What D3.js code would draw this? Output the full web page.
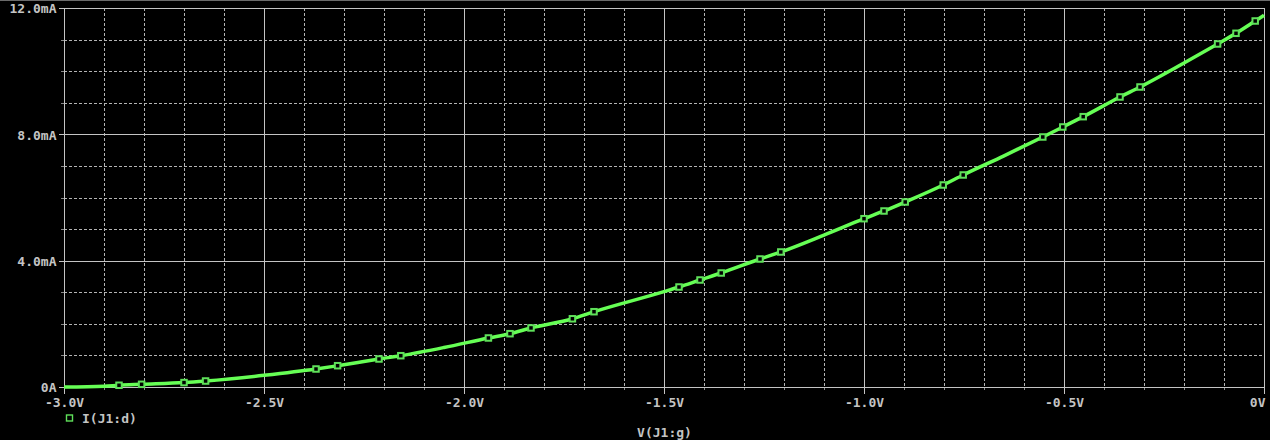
<!DOCTYPE html>
<html><head><meta charset="utf-8">
<script src="https://cdn.jsdelivr.net/npm/d3@7"></script>
<style>html,body{margin:0;padding:0;background:#000;overflow:hidden} svg{display:block}</style>
</head><body><svg id="c" width="1270" height="440"></svg>
<script>
// ---- data ----
const traceV = [-3.0, -2.9, -2.8625, -2.806, -2.70, -2.646, -2.5, -2.37, -2.316, -2.2125, -2.158, -2.05, -1.939, -1.885, -1.8325, -1.729, -1.675, -1.5, -1.4625, -1.41, -1.357, -1.26, -1.208, -1.1, -1.0, -0.95, -0.897, -0.802, -0.752, -0.65, -0.553, -0.503, -0.452, -0.36, -0.31, -0.2, -0.116, -0.07, -0.022, 0.0];
const traceI = [0.0, 0.025, 0.055, 0.085, 0.14, 0.19, 0.37, 0.57, 0.674, 0.887, 0.991, 1.25, 1.552, 1.688, 1.87, 2.16, 2.384, 3.02, 3.166, 3.388, 3.61, 4.053, 4.275, 4.81, 5.329, 5.573, 5.858, 6.396, 6.713, 7.32, 7.916, 8.233, 8.559, 9.183, 9.499, 10.26, 10.861, 11.199, 11.589, 11.77];
const markerV = [-2.8625, -2.806, -2.70, -2.646, -2.37, -2.316, -2.2125, -2.158, -1.939, -1.885, -1.8325, -1.729, -1.675, -1.4625, -1.41, -1.357, -1.26, -1.208, -1.0, -0.95, -0.897, -0.802, -0.752, -0.553, -0.503, -0.452, -0.36, -0.31, -0.116, -0.07, -0.022];
const markerI = [0.055, 0.085, 0.14, 0.19, 0.57, 0.674, 0.887, 0.991, 1.552, 1.688, 1.87, 2.16, 2.384, 3.166, 3.388, 3.61, 4.053, 4.275, 5.329, 5.573, 5.858, 6.396, 6.713, 7.916, 8.233, 8.559, 9.183, 9.499, 10.861, 11.199, 11.589];
const xTickValues = [-3.0, -2.5, -2.0, -1.5, -1.0, -0.5, 0.0];
const xTickLabels = ["-3.0V", "-2.5V", "-2.0V", "-1.5V", "-1.0V", "-0.5V", "0V"];
const yTickValues = [0, 4, 8, 12];
const yTickLabels = ["0A", "4.0mA", "8.0mA", "12.0mA"];
const xTitle = "V(J1:g)";
const legendLabel = "I(J1:d)";

// ---- layout ----
const L = 64, R = 1264, T = 8, B = 387;
const txt = "#c4c4c4", grid = "#b4b4b4", axisCol = "#c4c4c4";
const lineCol = "#66ff55", markCol = "#5fe05a";
const font = "'DejaVu Sans Mono', 'Liberation Mono', monospace";

const svg = d3.select("#c");
svg.append("rect").attr("width",1270).attr("height",440).attr("fill","#000");
svg.append("line").attr("x1",0).attr("x2",1270).attr("y1",0.5).attr("y2",0.5)
  .attr("stroke","#6a6a6a").attr("stroke-width",1);

const x = d3.scaleLinear().domain([-3, 0]).range([L, R]);
const y = d3.scaleLinear().domain([0, 12]).range([B, T]);

const xMinor = x.ticks(30);
const yMinor = y.ticks(12);
const isMajorX = v => xTickValues.some(t => Math.abs(t - v) < 1e-6);
const isMajorY = v => yTickValues.some(t => Math.abs(t - v) < 1e-6);

const g = svg.append("g").attr("shape-rendering","crispEdges");
// dashed minor grid
g.selectAll("line.vx").data(xMinor.filter(v => !isMajorX(v))).enter().append("line")
  .attr("x1", d => Math.round(x(d)) + 0.5).attr("x2", d => Math.round(x(d)) + 0.5)
  .attr("y1", T).attr("y2", B)
  .attr("stroke", grid).attr("stroke-dasharray","3,2");
g.selectAll("line.hy").data(yMinor.filter(v => !isMajorY(v))).enter().append("line")
  .attr("y1", d => Math.round(y(d)) + 0.5).attr("y2", d => Math.round(y(d)) + 0.5)
  .attr("x1", L).attr("x2", R)
  .attr("stroke", grid).attr("stroke-dasharray","3,2");
// solid major grid
g.selectAll("line.mx").data(xTickValues.slice(1, -1)).enter().append("line")
  .attr("x1", d => Math.round(x(d)) + 0.5).attr("x2", d => Math.round(x(d)) + 0.5)
  .attr("y1", T).attr("y2", B).attr("stroke", axisCol);
g.selectAll("line.my").data(yTickValues.slice(1, -1)).enter().append("line")
  .attr("y1", d => Math.round(y(d)) + 0.5).attr("y2", d => Math.round(y(d)) + 0.5)
  .attr("x1", L).attr("x2", R).attr("stroke", axisCol);
// minor ticks
g.selectAll("line.tx").data(xMinor.filter(v => !isMajorX(v))).enter().append("line")
  .attr("x1", d => Math.round(x(d)) + 0.5).attr("x2", d => Math.round(x(d)) + 0.5)
  .attr("y1", B).attr("y2", B + 3).attr("stroke", "#888");
g.selectAll("line.ty").data(yMinor.filter(v => !isMajorY(v))).enter().append("line")
  .attr("y1", d => Math.round(y(d)) + 0.5).attr("y2", d => Math.round(y(d)) + 0.5)
  .attr("x1", L - 3).attr("x2", L).attr("stroke", "#888");
// border
g.append("rect").attr("x", L + 0.5).attr("y", T + 0.5).attr("width", R - L).attr("height", B - T)
  .attr("fill","none").attr("stroke", axisCol);

// axes
const xAxis = d3.axisBottom(x).tickValues(xTickValues).tickFormat((d,i) => xTickLabels[i])
  .tickSize(6).tickPadding(4);
const gx = svg.append("g").attr("transform", `translate(0,${B + 0.5})`).call(xAxis);
const yAxis = d3.axisLeft(y).tickValues(yTickValues).tickFormat((d,i) => yTickLabels[i])
  .tickSize(6).tickPadding(2);
const gy = svg.append("g").attr("transform", `translate(${L + 0.5},0)`).call(yAxis);
[gx, gy].forEach(a => {
  a.select(".domain").remove();
  a.selectAll(".tick line").attr("stroke", axisCol).attr("shape-rendering","crispEdges");
  a.selectAll(".tick text").attr("fill", txt).attr("font-family", font)
    .attr("font-size", 13).attr("font-weight", "bold");
});
gx.selectAll(".tick text").filter((d,i) => i === xTickValues.length - 1).attr("text-anchor","end").attr("dx", 1);
gy.selectAll(".tick text").attr("dy", "0.36em");

// trace
const pts = traceV.map((v,i) => [v, traceI[i]]);
svg.append("path").datum(pts)
  .attr("d", d3.line().x(d => x(d[0])).y(d => y(d[1])).curve(d3.curveMonotoneX))
  .attr("fill","none").attr("stroke", lineCol).attr("stroke-width", 3.5);

// markers
const mk = markerV.map((v,i) => [v, markerI[i]]);
svg.selectAll("rect.mk").data(mk).enter().append("rect")
  .attr("x", d => x(d[0]) - 2.75).attr("y", d => y(d[1]) - 2.75)
  .attr("width", 5.5).attr("height", 5.5)
  .attr("fill","#000").attr("stroke", markCol).attr("stroke-width", 2);

// legend
svg.append("rect").attr("x", 66.5).attr("y", 415).attr("width", 6).attr("height", 6)
  .attr("fill","none").attr("stroke", markCol).attr("stroke-width", 1.4);
svg.append("text").attr("x", 82).attr("y", 418).attr("dy","0.36em")
  .attr("fill", txt).attr("font-family", font).attr("font-size", 13).attr("font-weight","bold")
  .text(legendLabel);
// x title
svg.append("text").attr("x", 664.5).attr("y", 432).attr("dy","0.36em").attr("text-anchor","middle")
  .attr("fill", txt).attr("font-family", font).attr("font-size", 13).attr("font-weight","bold")
  .text(xTitle);
</script></body></html>
